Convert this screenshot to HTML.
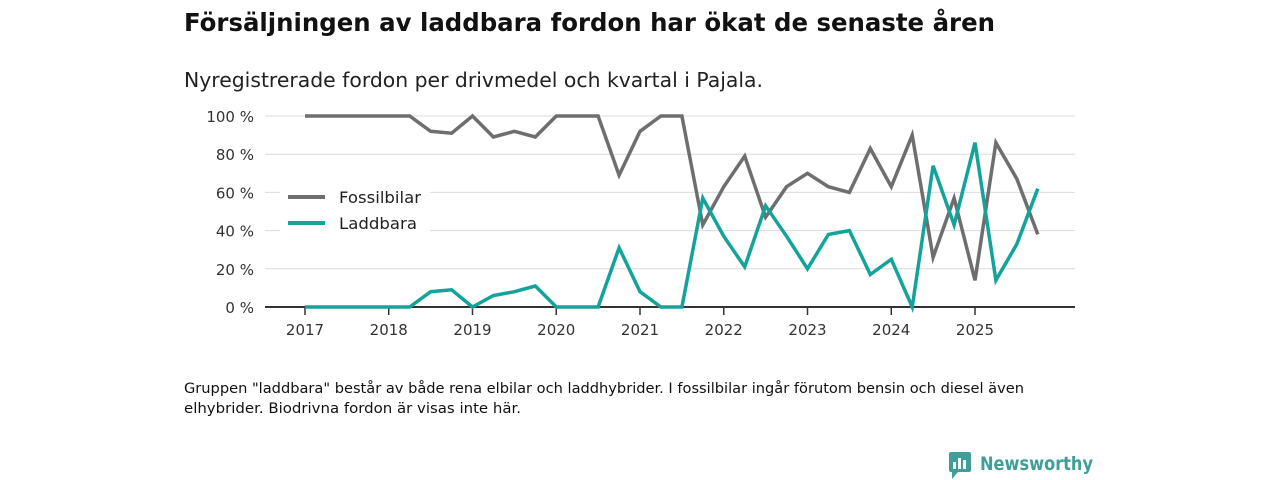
<!DOCTYPE html>
<html><head><meta charset="utf-8"><style>
body{margin:0;background:#fff;width:1280px;height:480px;overflow:hidden;font-family:"DejaVu Sans","Liberation Sans",sans-serif;color:#111}
</style></head><body>
<svg width="1280" height="480" style="position:absolute;left:0;top:0">
<text x="184" y="31" font-size="25" font-weight="bold" fill="#111" textLength="811" lengthAdjust="spacingAndGlyphs">Försäljningen av laddbara fordon har ökat de senaste åren</text>
<text x="184" y="87" font-size="20" fill="#222" textLength="579" lengthAdjust="spacingAndGlyphs">Nyregistrerade fordon per drivmedel och kvartal i Pajala.</text>
<g id="grid"></g><g id="axes"></g><g id="lines"></g>
<g>
<rect x="280" y="182" width="150" height="55" fill="#fff"/>
<line x1="288" y1="197" x2="325" y2="197" stroke="#6e6e6e" stroke-width="4"/>
<text x="339" y="203" font-size="16" fill="#222" textLength="82" lengthAdjust="spacingAndGlyphs">Fossilbilar</text>
<line x1="288" y1="223" x2="325" y2="223" stroke="#13a39a" stroke-width="4"/>
<text x="339" y="229" font-size="16" fill="#222" textLength="78" lengthAdjust="spacingAndGlyphs">Laddbara</text>
</g>
<text x="184" y="393" font-size="14" fill="#111" textLength="840" lengthAdjust="spacingAndGlyphs">Gruppen "laddbara" består av både rena elbilar och laddhybrider. I fossilbilar ingår förutom bensin och diesel även</text>
<text x="184" y="413" font-size="14" fill="#111" textLength="337" lengthAdjust="spacingAndGlyphs">elhybrider. Biodrivna fordon är visas inte här.</text>
<g>
<rect x="949" y="452" width="22" height="20" rx="2" fill="#3f9e97"/>
<path d="M952 472 L952 479 L958 472 Z" fill="#3f9e97"/>
<rect x="953" y="462" width="3" height="7" fill="#fff"/><rect x="958" y="458" width="3" height="11" fill="#fff"/><rect x="963" y="460" width="3" height="9" fill="#fff"/>
<text x="980" y="470" font-size="19" font-weight="bold" fill="#3f9e97" textLength="113" lengthAdjust="spacingAndGlyphs">Newsworthy</text>
</g>
</svg>
<script>
const years=["2017","2018","2019","2020","2021","2022","2023","2024","2025"];
const yTicks=[0,20,40,60,80,100];
const fossil=[100,100,100,100,100,100,92,91,100,89,92,89,100,100,100,69,92,100,100,43,63,79,47,63,70,63,60,83,63,90,26,57,14,86,67,38];
const laddbara=[0,0,0,0,0,0,8,9,0,6,8,11,0,0,0,31,8,0,0,57,37,21,53,37,20,38,40,17,25,0,74,43,86,14,33,62];
const NS="http://www.w3.org/2000/svg";
const x0=305,yearW=83.75,yB=307,yT=116;
const xs=i=>x0+i*yearW/4;
const ys=v=>yB-(v/100)*(yB-yT);
function mk(tag,attrs,parent,txt){const e=document.createElementNS(NS,tag);for(const k in attrs)e.setAttribute(k,attrs[k]);if(txt!==undefined)e.textContent=txt;document.getElementById(parent).appendChild(e);return e;}
yTicks.forEach(t=>{
  if(t>0){const l=mk('line',{x1:265,x2:1075,y1:ys(t),y2:ys(t),stroke:'#dcdcdc','stroke-width':1},'grid');
  
  }
  const tx=mk('text',{x:254,y:ys(t)+6,'text-anchor':'end','font-size':15,fill:'#333'},'axes',t+' %');
  
  
});
const base=mk('line',{x1:265,x2:1075,y1:yB,y2:yB,stroke:'#333','stroke-width':2},'axes');


years.forEach((y,i)=>{
  const x=x0+i*yearW;
  const tk=mk('line',{x1:x,x2:x,y1:yB,y2:yB+8,stroke:'#333','stroke-width':1.5},'axes');
  
  
  const tx=mk('text',{x:x,y:335,'text-anchor':'middle','font-size':15,fill:'#333'},'axes',y);
  
  
});
function line(arr,color,name){
  const d=arr.map((v,i)=>(i?'L':'M')+xs(i).toFixed(1)+' '+ys(v).toFixed(1)).join(' ');
  const p=mk('path',{d:d,fill:'none',stroke:color,'stroke-width':3.5,'stroke-linejoin':'miter'},'lines');
  
  
}
line(fossil,'#6e6e6e','fossilbilar-line');
line(laddbara,'#13a39a','laddbara-line');
</script>
</body></html>
